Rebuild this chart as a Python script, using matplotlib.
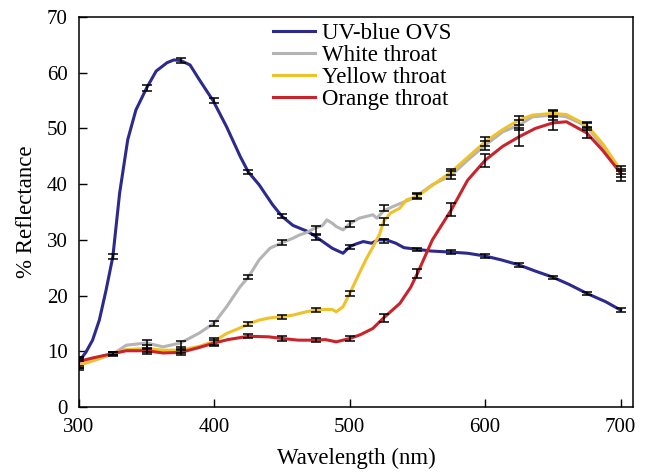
import numpy as np
import matplotlib
matplotlib.use("Agg")
import matplotlib.pyplot as plt

plt.rcParams['font.family'] = ['Liberation Serif', 'DejaVu Serif']

# curbe (lungime de unda, reflectanta %)
blue_wl = [300, 305, 310, 315, 320, 325, 330, 336, 342, 350, 357, 365, 370, 375, 382, 389,
           399, 409, 419, 425, 433, 443, 450, 458, 463, 468, 473, 480, 487, 495, 500, 505,
           510, 516, 521, 527, 534, 540, 550, 560, 575, 587, 600, 612, 625, 637, 650, 662,
           675, 689, 700]
blue_r = [8.2, 9.8, 12.0, 15.6, 21.0, 27.0, 38.4, 48.0, 53.3, 57.3, 60.3, 61.8, 62.3, 62.2, 61.4, 58.7,
          55.0, 50.3, 45.0, 42.2, 39.9, 36.3, 34.2, 32.6, 32.1, 31.6, 30.9, 29.7, 28.5, 27.6, 28.8, 29.3,
          29.7, 29.4, 30.0, 30.0, 29.4, 28.6, 28.3, 28.0, 27.8, 27.6, 27.1, 26.4, 25.5, 24.4, 23.3, 22.0,
          20.4, 18.9, 17.4]

white_wl = [300, 310, 325, 335, 350, 362, 375, 389, 400, 409, 419, 425, 433, 441, 450, 458,
            463, 468, 474, 480, 483, 487, 490, 495, 500, 507, 512, 517, 520, 525, 532, 537,
            545, 550, 561, 575, 587, 600, 613, 625, 635, 650, 660, 675, 687, 700]
white_r = [7.5, 8.3, 9.5, 11.1, 11.5, 10.8, 11.5, 13.3, 15.1, 18.0, 21.6, 23.3, 26.4, 28.5, 29.5, 30.3,
           30.9, 31.3, 32.1, 32.6, 33.6, 33.0, 32.4, 31.8, 32.9, 33.9, 34.2, 34.5, 33.9, 35.2, 36.0, 36.5,
           37.3, 38.0, 39.9, 41.6, 44.3, 47.0, 49.4, 50.6, 52.1, 52.4, 52.1, 50.4, 46.7, 42.0]

yellow_wl = [300, 310, 325, 335, 350, 362, 375, 389, 400, 409, 419, 425, 433, 441, 450, 458,
             468, 475, 480, 487, 490, 495, 500, 507, 512, 517, 522, 525, 530, 537, 542, 550,
             561, 575, 587, 600, 613, 625, 635, 650, 660, 675, 687, 700]
yellow_r = [7.5, 8.3, 9.6, 10.3, 10.5, 10.2, 10.2, 10.9, 11.8, 13.2, 14.2, 14.9, 15.6, 16.0, 16.2, 16.5,
            17.1, 17.4, 17.5, 17.5, 17.1, 18.0, 20.4, 24.0, 26.5, 28.7, 31.0, 33.3, 34.8, 35.7, 37.2, 37.8,
            39.8, 42.2, 44.8, 47.6, 49.8, 51.5, 52.4, 52.7, 52.5, 50.6, 47.2, 42.5]

orange_wl = [300, 310, 325, 335, 350, 362, 375, 389, 400, 410, 425, 440, 450, 462, 475, 482,
             490, 500, 508, 517, 525, 537, 545, 550, 561, 575, 587, 600, 613, 625, 637, 650,
             660, 675, 687, 700]
orange_r = [8.2, 8.8, 9.6, 10.1, 10.1, 9.7, 9.8, 10.7, 11.5, 12.1, 12.7, 12.6, 12.3, 12.0, 12.0, 12.1,
            11.7, 12.3, 13.0, 14.1, 16.0, 18.6, 21.5, 24.0, 30.0, 35.4, 40.7, 44.3, 46.8, 48.5, 50.0, 51.0,
            51.2, 49.2, 46.0, 42.0]

# bare de eroare, la fiecare 25 nm
bar_wl = [300, 325, 350, 375, 400, 425, 450, 475, 500, 525, 550, 575, 600, 625, 650, 675, 700]
blue_m = [8.0, 27.0, 57.3, 62.2, 55.0, 42.2, 34.3, 30.5, 28.7, 29.8, 28.3, 27.8, 27.1, 25.5, 23.3, 20.4, 17.4]
blue_e = [1.0, 0.5, 0.5, 0.5, 0.5, 0.4, 0.4, 0.5, 0.4, 0.3, 0.3, 0.3, 0.3, 0.3, 0.3, 0.3, 0.3]
white_m = [7.8, 9.5, 11.2, 11.2, 15.0, 23.3, 29.5, 31.7, 32.8, 35.7, 38.0, 41.6, 47.0, 50.6, 52.4, 50.4, 42.0]
white_e = [0.8, 0.3, 0.8, 0.7, 0.5, 0.4, 0.5, 0.8, 0.5, 0.5, 0.5, 0.7, 0.8, 0.9, 0.8, 0.6, 0.8]
yellow_m = [7.5, 9.6, 10.5, 10.2, 11.8, 14.9, 16.2, 17.4, 20.4, 33.3, 37.8, 42.2, 47.6, 51.5, 52.7, 50.6, 42.5]
yellow_e = [0.8, 0.3, 0.6, 0.5, 0.6, 0.4, 0.4, 0.4, 0.5, 0.6, 0.5, 0.6, 0.8, 0.8, 0.7, 0.6, 0.7]
orange_m = [8.2, 9.6, 10.1, 9.8, 11.5, 12.7, 12.3, 12.0, 12.3, 16.0, 24.0, 35.4, 44.3, 48.5, 51.0, 49.2, 41.5]
orange_e = [0.8, 0.3, 0.5, 0.5, 0.5, 0.4, 0.4, 0.4, 0.5, 0.7, 0.8, 1.2, 1.2, 1.6, 1.2, 1.0, 0.9]

series = [
    ("UV-blue OVS", "#2c2a8c", blue_wl, blue_r, blue_m, blue_e),
    ("White throat", "#b4b4b4", white_wl, white_r, white_m, white_e),
    ("Yellow throat", "#efc12a", yellow_wl, yellow_r, yellow_m, yellow_e),
    ("Orange throat", "#c9232c", orange_wl, orange_r, orange_m, orange_e),
]

fig = plt.figure(figsize=(6.53, 4.73), dpi=100)
ax = fig.add_axes([0.121, 0.1395, 0.848, 0.8245])

for nume, culoare, wl, r, m, e in series:
    ax.plot(wl, r, color=culoare, lw=2.2, label=nume, zorder=2)
for nume, culoare, wl, r, m, e in series:
    ax.errorbar(bar_wl, m, yerr=e, fmt='none', ecolor='black', elinewidth=1.1,
                capsize=3.8, capthick=1.1, zorder=3)

ax.set_xlim(300, 709)
ax.set_ylim(0, 70)
ax.set_xticks([300, 400, 500, 600, 700])
ax.set_yticks(np.arange(0, 71, 10))
ax.tick_params(direction='in', length=6, width=1, labelsize=15, top=False, right=False)
ax.tick_params(axis='x', pad=8)
ax.tick_params(axis='y', pad=8)
for s in ax.spines.values():
    s.set_linewidth(1.1)

ax.set_xlabel("Wavelength (nm)", fontsize=16.5, labelpad=8)
ax.set_ylabel("% Reflectance", fontsize=16.5, labelpad=7)

ax.legend(loc='upper left', bbox_to_anchor=(0.350, 0.985), frameon=False, fontsize=16.5,
          handlelength=1.85, handletextpad=0.3, labelspacing=0.05,
          borderaxespad=0, borderpad=0)

fig.savefig("out.png", dpi=100)
